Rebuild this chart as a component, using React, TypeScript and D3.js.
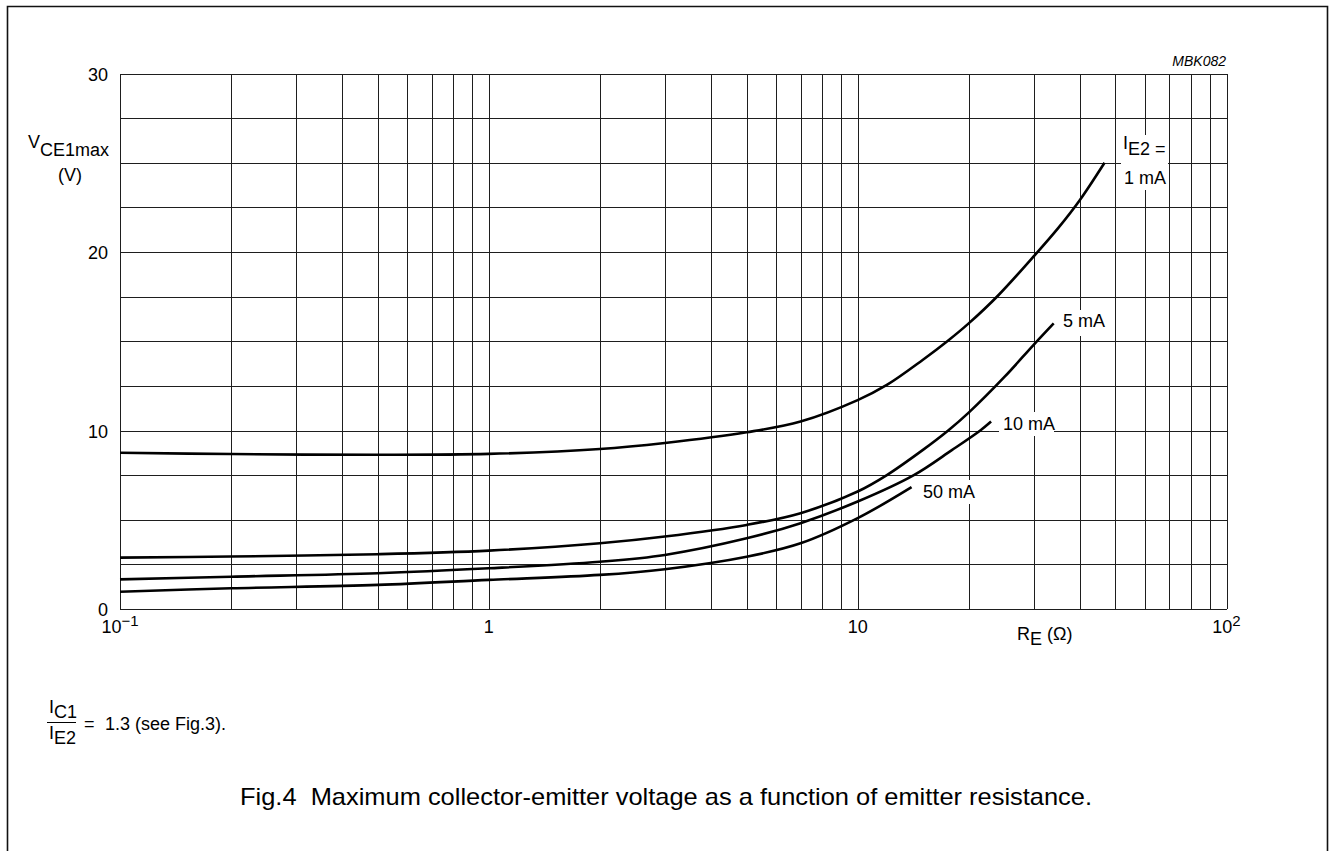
import React from "react";
import * as d3 from "d3";

const W = 1329;
const H = 851;

const seriesNames = ["1 mA", "5 mA", "10 mA", "50 mA"];
const res1: number[] = [0.1, 0.2, 0.5, 1, 2, 3, 5, 7, 10, 12, 15, 17.5, 20, 24, 30, 35, 40, 46.7];
const v1: number[] = [8.75, 8.68, 8.64, 8.69, 8.96, 9.3, 9.9, 10.5, 11.7, 12.55, 13.95, 15.0, 16.0, 17.55, 19.75, 21.35, 22.9, 25.0];
const res5: number[] = [0.1, 0.2, 0.5, 1, 2, 3, 5, 7, 10, 12, 15, 17.6, 20, 25, 30, 34];
const v5: number[] = [2.88, 2.94, 3.07, 3.27, 3.68, 4.06, 4.71, 5.37, 6.58, 7.5, 8.9, 10.0, 11.0, 13.0, 14.8, 16.0];
const res10: number[] = [0.1, 0.2, 0.5, 1, 2, 3, 5, 7, 10, 14.2, 18, 21.5, 23];
const v10: number[] = [1.66, 1.81, 2.0, 2.28, 2.65, 3.03, 3.96, 4.81, 6.02, 7.5, 8.9, 10.0, 10.5];
const res50: number[] = [0.1, 0.2, 0.5, 1, 2, 3, 5, 7, 10, 14];
const v50: number[] = [0.97, 1.16, 1.35, 1.63, 1.91, 2.23, 2.93, 3.68, 5.09, 6.83];

const xDomain: [number, number] = [0.1, 100];
const yDomain: [number, number] = [0, 30];
const yTickLabels = [0, 10, 20, 30];
const yGridStep = 2.5;

const FONT = "'Liberation Sans', Arial, Helvetica, sans-serif";

export default function App() {
  const left = 120, right = 1226.5, top = 73.5, bottom = 609;
  const x = d3.scaleLog().domain(xDomain).range([left, right]);
  const y = d3.scaleLinear().domain(yDomain).range([bottom, top]);
  const px = (v: number) => Math.round(v) + 0.5;

  const vGrid: number[] = [];
  for (let d = -1; d < 2; d++) {
    for (let m = 1; m <= 10; m++) {
      if (m === 10 && d < 1) continue;
      vGrid.push(m * Math.pow(10, d));
    }
  }
  const hGrid = d3.range(yDomain[0], yDomain[1] + 0.001, yGridStep);

  const line = d3
    .line<[number, number]>()
    .x((d) => x(d[0]))
    .y((d) => y(d[1]))
    .curve(d3.curveCatmullRom.alpha(0.5));

  const series: [number, number][][] = [
    res1.map((r, i) => [r, v1[i]]),
    res5.map((r, i) => [r, v5[i]]),
    res10.map((r, i) => [r, v10[i]]),
    res50.map((r, i) => [r, v50[i]]),
  ];

  const fs = 18;

  return (
    <svg
      width={W}
      height={H}
      style={{ position: "absolute", left: 0, top: 0, background: "#fff" }}
      fontFamily={FONT}
    >
      <rect x={0} y={0} width={W} height={H} fill="#fff" />
      {/* outer frame */}
      <path d={`M7.5,${H + 5} V6.5 H1327.5 V${H + 5}`} fill="none" stroke="#111" strokeWidth={1.6} />

      {/* grid */}
      <g stroke="#1e1e1e" strokeWidth={1} shapeRendering="crispEdges">
        {vGrid.map((v, i) => (
          <line key={"v" + i} x1={px(x(v))} x2={px(x(v))} y1={top} y2={bottom} />
        ))}
        {hGrid.map((v, i) => (
          <line key={"h" + i} x1={left} x2={right} y1={px(y(v))} y2={px(y(v))} />
        ))}
      </g>

      {/* curves */}
      <g fill="none" stroke="#000" strokeWidth={2.6} strokeLinecap="butt">
        {series.map((s, i) => (
          <path key={seriesNames[i]} d={line(s) || ""} />
        ))}
      </g>

      {/* label backgrounds */}
      <g fill="#fff">
        <rect x={1121} y={135} width={47} height={55} />
        <rect x={1060} y={310} width={50} height={26} />
        <rect x={999} y={412} width={55} height={24} />
        <rect x={920} y={480} width={58} height={24} />
      </g>

      <g fontSize={fs} fill="#000">
        {/* series labels */}
        <text x={1123} y={149}>
          I<tspan dy={6}>E2 =</tspan>
        </text>
        <text x={1124} y={184}>{seriesNames[0]}</text>
        <text x={1063} y={327}>{seriesNames[1]}</text>
        <text x={1003} y={430}>{seriesNames[2]}</text>
        <text x={923} y={498}>{seriesNames[3]}</text>

        {/* y ticks */}
        {yTickLabels.map((t) => (
          <text key={"yt" + t} x={108} y={y(t) + 7} textAnchor="end">
            {t}
          </text>
        ))}

        {/* x ticks */}
        <text x={x(0.1)} y={633} textAnchor="middle">
          10<tspan fontSize={15} dy={-7}>−1</tspan>
        </text>
        <text x={x(1)} y={633} textAnchor="middle">1</text>
        <text x={x(10)} y={633} textAnchor="middle">10</text>
        <text x={x(100)} y={633} textAnchor="middle">
          10<tspan fontSize={15} dy={-7}>2</tspan>
        </text>

        {/* axis titles */}
        <text x={28} y={148}>
          V<tspan dy={8}>CE1max</tspan>
        </text>
        <text x={70} y={181} textAnchor="middle">(V)</text>
        <text x={1017} y={640}>
          R<tspan dy={5}>E</tspan>
          <tspan dy={-5}> (Ω)</tspan>
        </text>

        {/* footnote */}
        <text x={49} y={713}>
          I<tspan dy={5}>C1</tspan>
        </text>
        <line x1={47} x2={76} y1={722.5} y2={722.5} stroke="#000" strokeWidth={1} />
        <text x={49} y={739}>
          I<tspan dy={5}>E2</tspan>
        </text>
        <text x={84} y={730}>=</text>
        <text x={105} y={730}>1.3 (see Fig.3).</text>
      </g>

      <text x={1226} y={66} textAnchor="end" fontSize={14} fontStyle="italic">
        MBK082
      </text>

      {/* caption */}
      <text
        x={666}
        y={805}
        textAnchor="middle"
        fontSize={24}
        textLength={852}
        lengthAdjust="spacingAndGlyphs"
        style={{ whiteSpace: "pre" }}
      >
        {"Fig.4  Maximum collector-emitter voltage as a function of emitter resistance."}
      </text>
    </svg>
  );
}
